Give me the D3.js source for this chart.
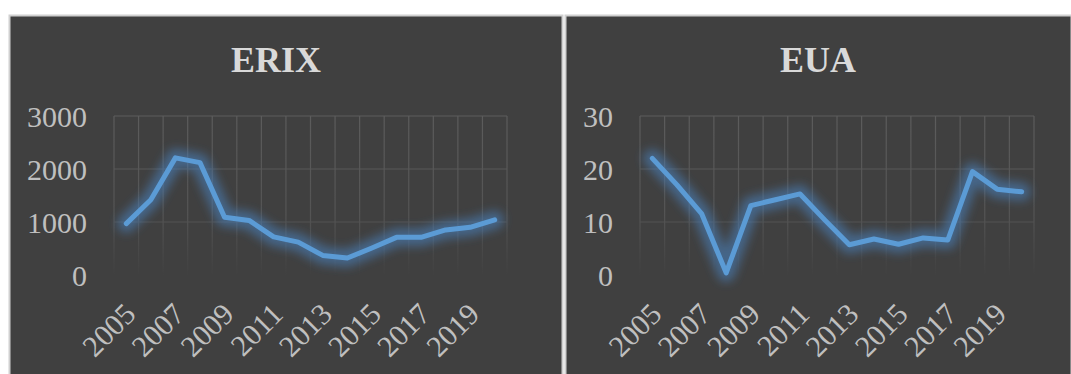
<!DOCTYPE html>
<html>
<head>
<meta charset="utf-8">
<script src="https://cdn.jsdelivr.net/npm/d3@7"></script>
<style>
  html, body { margin: 0; padding: 0; background: #ffffff; }
  svg { display: block; }
</style>
</head>
<body>
<svg id="chart" width="1071" height="374"></svg>
<script>
const years = ["2005","2006","2007","2008","2009","2010","2011","2012","2013","2014","2015","2016","2017","2018","2019","2020"];
const xTickLabels = ["2005","2007","2009","2011","2013","2015","2017","2019"];
const erixValues = [970, 1420, 2210, 2120, 1090, 1030, 720, 620, 370, 320, 510, 710, 710, 850, 900, 1040];
const euaValues = [22.0, 17.0, 11.6, 0.4, 13.1, 14.2, 15.3, 10.4, 5.7, 6.8, 5.8, 7.0, 6.6, 19.5, 16.2, 15.7];
const erixTicks = [0, 1000, 2000, 3000];
const euaTicks = [0, 10, 20, 30];

const svg = d3.select("#chart");
const defs = svg.append("defs");

const blur = defs.append("filter").attr("id", "blur")
  .attr("filterUnits", "userSpaceOnUse")
  .attr("x", 0).attr("y", 0).attr("width", 1071).attr("height", 374);
blur.append("feGaussianBlur").attr("stdDeviation", 5);

const grad = defs.append("linearGradient").attr("id", "gridfade")
  .attr("gradientUnits", "userSpaceOnUse").attr("x1", 0).attr("x2", 0).attr("y1", 116).attr("y2", 276);
grad.append("stop").attr("offset", "0%").attr("stop-color", "#5c5c5c");
grad.append("stop").attr("offset", "62%").attr("stop-color", "#545454");
grad.append("stop").attr("offset", "100%").attr("stop-color", "#404040");

function drawPanel(opts) {
  const g = svg.append("g");
  g.append("rect")
    .attr("x", opts.px + 0.5).attr("y", 15.5)
    .attr("width", opts.pw - 1).attr("height", 374)
    .attr("fill", "#404040").attr("stroke", "#d0d0d0").attr("stroke-width", 2);

  const x = d3.scaleBand().domain(years).range([opts.left, opts.right]).padding(0);
  const y = d3.scaleLinear().domain(opts.domain).range([275, 116]);
  const bw = x.bandwidth();

  const grid = g.append("g").attr("stroke", "url(#gridfade)").attr("stroke-width", 1.2);
  grid.selectAll("line.h").data(opts.ticks.filter(t => t > opts.domain[0])).join("line")
    .attr("x1", opts.left).attr("x2", opts.right)
    .attr("y1", d => y(d)).attr("y2", d => y(d));
  const vlines = years.map(yy => x(yy)).concat([opts.right]);
  grid.selectAll("line.v").data(vlines).join("line")
    .attr("x1", d => d).attr("x2", d => d)
    .attr("y1", y(opts.domain[1])).attr("y2", y(opts.domain[0]));

  const yAxis = d3.axisLeft(y).tickValues(opts.ticks).tickFormat(d3.format("d")).tickSize(0).tickPadding(0);
  const ya = g.append("g").attr("transform", `translate(${opts.left - 27},0)`).call(yAxis);
  ya.select(".domain").remove();
  ya.selectAll("text")
    .attr("font-family", "'Liberation Serif', 'Times New Roman', serif")
    .attr("font-size", 30).attr("fill", "#bfbfbf").attr("dy", "0.34em");

  const xAxis = d3.axisBottom(x).tickValues(xTickLabels).tickSize(0).tickPadding(0);
  const xa = g.append("g").attr("transform", `translate(0,${y(opts.domain[0])})`).call(xAxis);
  xa.select(".domain").remove();
  xa.selectAll("text")
    .attr("font-family", "'Liberation Serif', 'Times New Roman', serif")
    .attr("font-size", 30).attr("fill", "#bfbfbf")
    .attr("text-anchor", "end").attr("dy", 0).attr("y", 0)
    .attr("transform", "translate(11,41) rotate(-45)");

  g.append("text")
    .attr("x", opts.titleX).attr("y", 72)
    .attr("text-anchor", "middle")
    .attr("font-family", "'Liberation Serif', 'Times New Roman', serif")
    .attr("font-weight", "bold").attr("font-size", 36)
    .attr("fill", "#d9d9d9")
    .text(opts.title);

  const line = d3.line().x((d, i) => x(years[i]) + bw / 2).y(d => y(d));
  g.append("path").datum(opts.values)
    .attr("d", line).attr("fill", "none")
    .attr("stroke", "#4a7fb8").attr("stroke-opacity", 0.6).attr("stroke-width", 18)
    .attr("stroke-linejoin", "round").attr("stroke-linecap", "round")
    .attr("filter", "url(#blur)");
  g.append("path").datum(opts.values)
    .attr("d", line).attr("fill", "none")
    .attr("stroke", "#5b9bd5").attr("stroke-width", 5)
    .attr("stroke-linejoin", "round").attr("stroke-linecap", "round");
}

drawPanel({ px: 9, pw: 554, left: 114, right: 507, domain: [0, 3000], ticks: erixTicks,
  values: erixValues, title: "ERIX", titleX: 276 });
drawPanel({ px: 565, pw: 507, left: 640, right: 1034, domain: [0, 30], ticks: euaTicks,
  values: euaValues, title: "EUA", titleX: 818 });
</script>
</body>
</html>
